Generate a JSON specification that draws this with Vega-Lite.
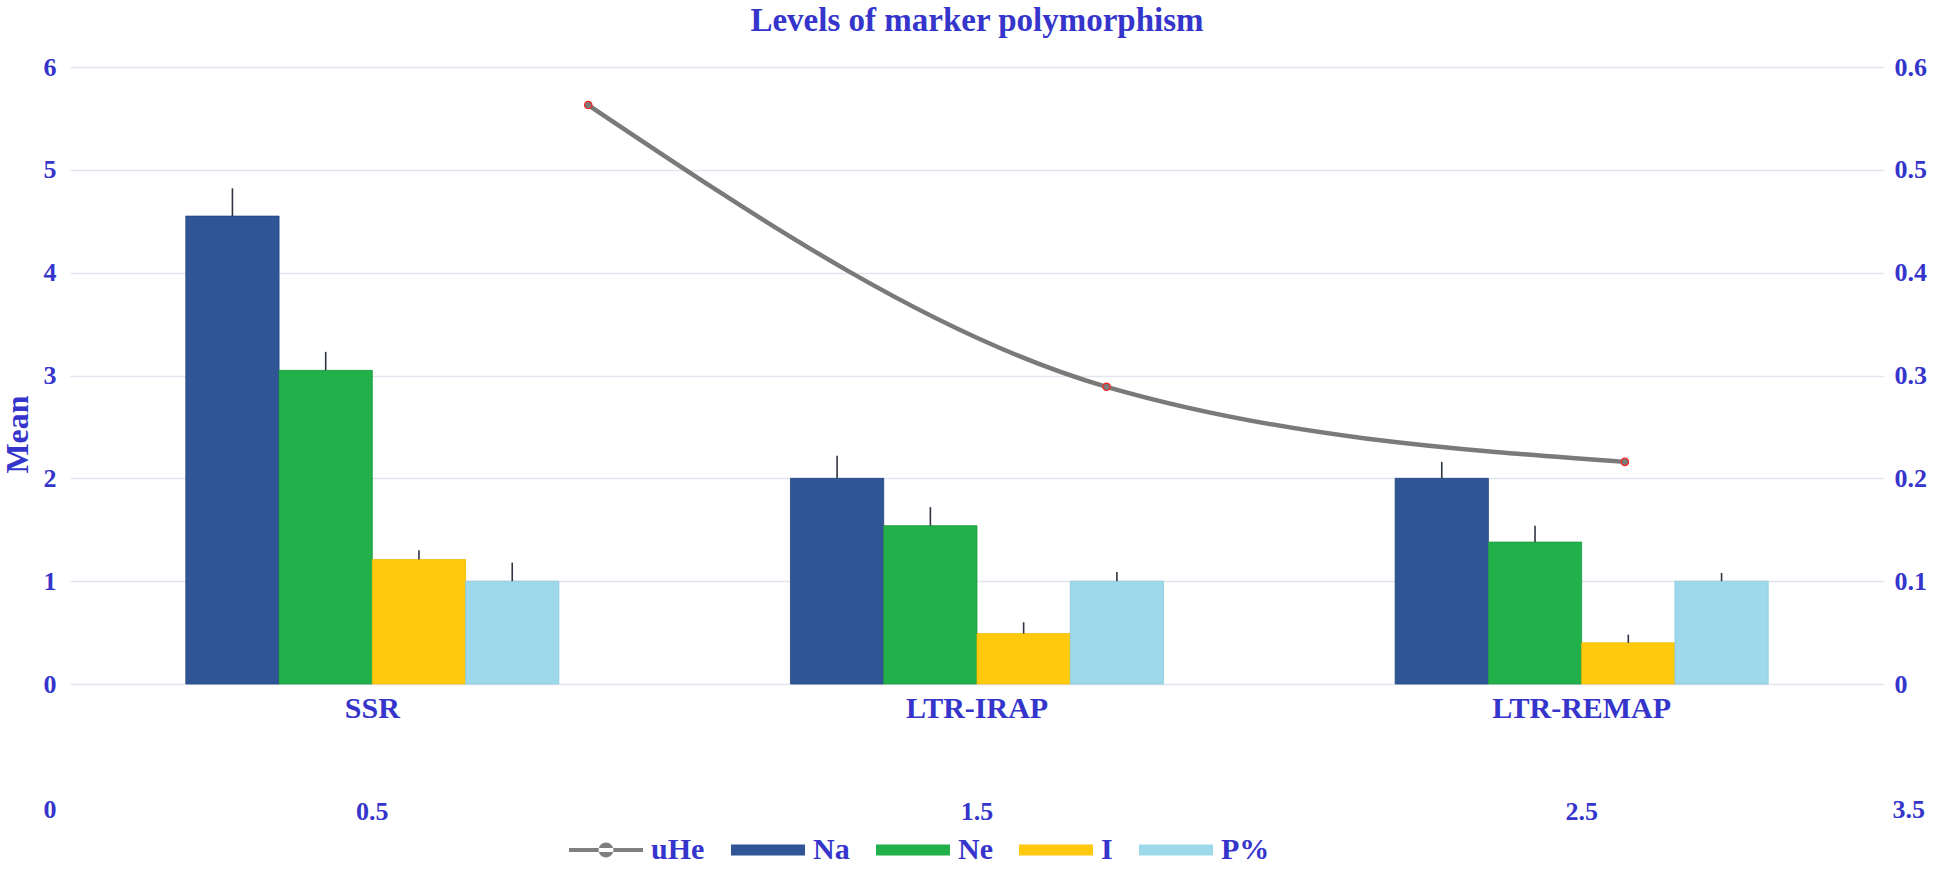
{
  "$schema": "https://vega.github.io/schema/vega-lite/v6.json",
  "width": 1814,
  "height": 617,
  "autosize": {"type": "none"},
  "padding": {"left": 70, "top": 67, "right": 62, "bottom": 201},
  "background": "white",
  "title": {
    "text": "Levels of marker polymorphism",
    "fontSize": 33,
    "font": "Liberation Serif",
    "fontWeight": "bold",
    "color": "#3535cc",
    "anchor": "middle",
    "offset": 16
  },
  "datasets": {
    "bars": [
      {"Marker": "SSR", "Measure": "Na", "Mean": 4.55, "Upper": 4.82},
      {"Marker": "SSR", "Measure": "Ne", "Mean": 3.05, "Upper": 3.23},
      {"Marker": "SSR", "Measure": "I", "Mean": 1.21, "Upper": 1.3},
      {"Marker": "SSR", "Measure": "P%", "Mean": 1.0, "Upper": 1.18},
      {"Marker": "LTR-IRAP", "Measure": "Na", "Mean": 2.0, "Upper": 2.22},
      {"Marker": "LTR-IRAP", "Measure": "Ne", "Mean": 1.54, "Upper": 1.72},
      {"Marker": "LTR-IRAP", "Measure": "I", "Mean": 0.49, "Upper": 0.6},
      {"Marker": "LTR-IRAP", "Measure": "P%", "Mean": 1.0, "Upper": 1.09},
      {"Marker": "LTR-REMAP", "Measure": "Na", "Mean": 2.0, "Upper": 2.16},
      {"Marker": "LTR-REMAP", "Measure": "Ne", "Mean": 1.38, "Upper": 1.54},
      {"Marker": "LTR-REMAP", "Measure": "I", "Mean": 0.4, "Upper": 0.48},
      {"Marker": "LTR-REMAP", "Measure": "P%", "Mean": 1.0, "Upper": 1.08}
    ],
    "uhe": [
      {"Marker": "SSR", "pos": 1, "uHe": 0.563},
      {"Marker": "LTR-IRAP", "pos": 2, "uHe": 0.289},
      {"Marker": "LTR-REMAP", "pos": 3, "uHe": 0.216}
    ]
  },
  "config": {
    "font": "Liberation Serif",
    "view": {"stroke": null},
    "axis": {
      "labelFont": "Liberation Serif",
      "labelFontWeight": "bold",
      "labelColor": "#3535cc",
      "titleFont": "Liberation Serif",
      "titleFontWeight": "bold",
      "titleColor": "#3535cc",
      "ticks": false,
      "domain": false
    }
  },
  "layer": [
    {
      "data": {"name": "bars"},
      "layer": [
        {
          "mark": {"type": "bar", "strokeWidth": 0.8},
          "encoding": {
            "x": {
              "field": "Marker",
              "type": "nominal",
              "sort": ["SSR", "LTR-IRAP", "LTR-REMAP"],
              "scale": {"paddingInner": 0.383, "paddingOuter": 0.1915},
              "axis": {
                "orient": "bottom",
                "title": null,
                "labelAngle": 0,
                "labelFontSize": 30,
                "labelPadding": 9,
                "grid": false
              }
            },
            "xOffset": {
              "field": "Measure",
              "type": "nominal",
              "sort": ["Na", "Ne", "I", "P%"],
              "scale": {"paddingInner": 0, "paddingOuter": 0}
            },
            "y": {
              "field": "Mean",
              "type": "quantitative",
              "scale": {"domain": [0, 6], "nice": false},
              "axis": {
                "orient": "left",
                "values": [0, 1, 2, 3, 4, 5, 6],
                "format": "d",
                "title": "Mean",
                "titleFontSize": 32,
                "titleAngle": -90,
                "titleX": -43,
                "titleY": 367,
                "titleBaseline": "alphabetic",
                "titleAlign": "center",
                "labelFontSize": 26,
                "labelPadding": 14,
                "grid": true,
                "gridColor": "#e1e6ee",
                "gridWidth": 1.5
              }
            },
            "color": {
              "field": "Measure",
              "type": "nominal",
              "scale": {
                "domain": ["uHe", "Na", "Ne", "I", "P%"],
                "range": ["#7f7f7f", "#2f5597", "#22b04b", "#ffc90e", "#9dd9ea"]
              },
              "legend": {
                "title": null,
                "orient": "none",
                "direction": "horizontal",
                "legendX": 499,
                "legendY": 746,
                "labelFont": "Liberation Serif",
                "labelFontWeight": "bold",
                "labelFontSize": 30,
                "labelColor": "#3535cc",
                "symbolSize": 5476,
                "symbolType": "M-1,-0.15H1V0.15H-1Z",
                "symbolStrokeWidth": 0,
                "labelOffset": 8,
                "columnPadding": 26,
                "encode": {
                  "symbols": {
                    "update": {
                      "shape": {"signal": "datum.value === 'uHe' ? 'M-1,-0.055H1V0.055H-1Z M-0.2,0A0.2,0.2 0 1,0 0.2,0A0.2,0.2 0 1,0 -0.2,0Z' : 'M-1,-0.15H1V0.15H-1Z'"},
                      "fill": {"scale": "color", "field": "value"},
                      "opacity": {"value": 1}
                    }
                  }
                }
              }
            },
            "stroke": {
              "field": "Measure",
              "type": "nominal",
              "scale": {
                "domain": ["Na", "Ne", "I", "P%"],
                "range": ["#24467f", "#1c9a40", "#f2bd00", "#8cc9dc"]
              },
              "legend": null
            }
          }
        },
        {
          "mark": {"type": "rule", "color": "#2f3442", "strokeWidth": 1.6},
          "encoding": {
            "x": {
              "field": "Marker",
              "type": "nominal",
              "sort": ["SSR", "LTR-IRAP", "LTR-REMAP"],
              "axis": {
                "orient": "bottom",
                "title": null,
                "offset": 104,
                "labelAngle": 0,
                "labelFontSize": 26,
                "labelPadding": 10,
                "grid": false,
                "labelExpr": "datum.label === 'SSR' ? '0.5' : datum.label === 'LTR-IRAP' ? '1.5' : '2.5'"
              }
            },
            "xOffset": {"field": "Measure", "type": "nominal", "sort": ["Na", "Ne", "I", "P%"]},
            "y": {"field": "Mean", "type": "quantitative"},
            "y2": {"field": "Upper"}
          }
        }
      ],
      "resolve": {"axis": {"x": "independent"}}
    },
    {
      "data": {"name": "uhe"},
      "encoding": {
        "x": {
          "field": "pos",
          "type": "quantitative",
          "scale": {"domain": [0, 3.5], "nice": false, "zero": false},
          "axis": {
            "orient": "bottom",
            "title": null,
            "offset": 102,
            "values": [0, 3.5],
            "labelExpr": "datum.value === 0 ? '0' : '3.5'",
            "labelFontSize": 26,
            "labelPadding": 10,
            "labelFlush": false,
            "labelAlign": {"condition": {"test": "datum.value === 0", "value": "right"}, "value": "left"},
            "labelOffset": {"condition": {"test": "datum.value === 0", "value": -14}, "value": 8},
            "grid": false
          }
        },
        "y": {
          "field": "uHe",
          "type": "quantitative",
          "scale": {"domain": [0, 0.6], "nice": false},
          "axis": {
            "orient": "right",
            "title": null,
            "values": [0, 0.1, 0.2, 0.3, 0.4, 0.5, 0.6],
            "labelExpr": "datum.value === 0 ? '0' : format(datum.value, '.1f')",
            "labelFontSize": 26,
            "labelPadding": 10,
            "grid": false
          }
        }
      },
      "layer": [
        {
          "mark": {"type": "line", "color": "#7a7a7a", "strokeWidth": 4.5, "interpolate": "monotone"}
        },
        {
          "mark": {"type": "point", "filled": true, "fill": "#7a7a7a", "stroke": "#ff2020", "strokeWidth": 1.2, "size": 55, "opacity": 1}
        }
      ]
    }
  ],
  "resolve": {"scale": {"x": "independent", "y": "independent"}}
}
